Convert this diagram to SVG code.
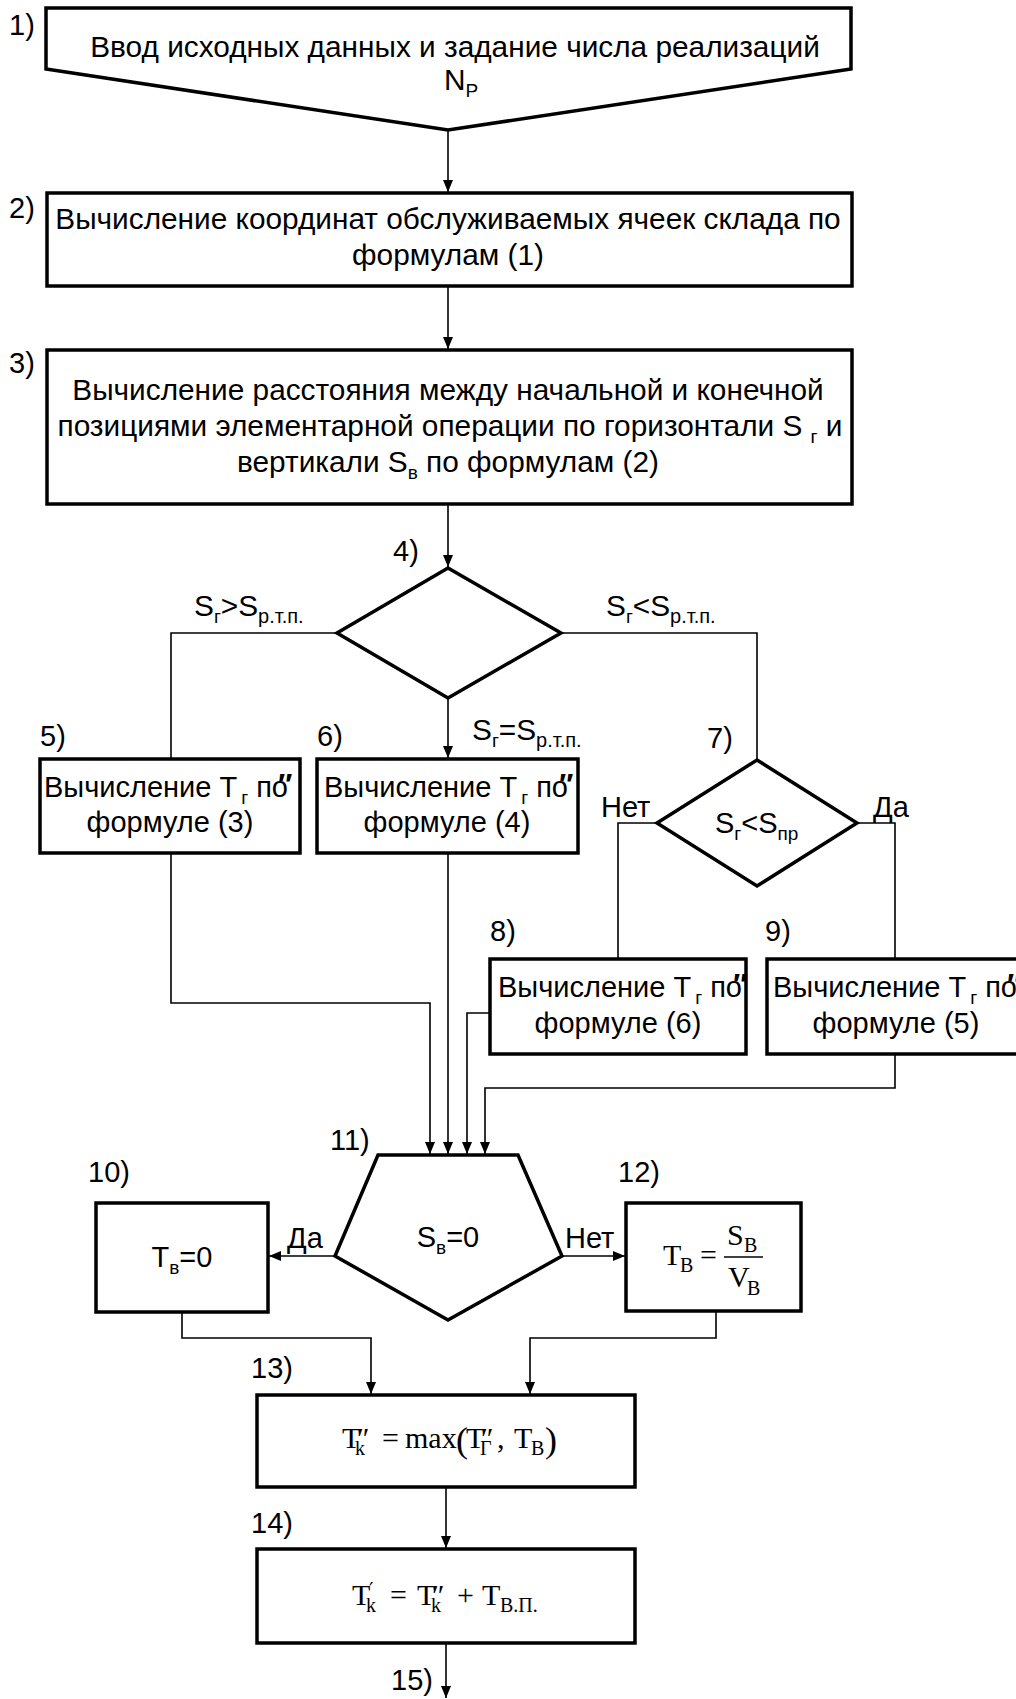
<svg xmlns="http://www.w3.org/2000/svg" width="1016" height="1699" viewBox="0 0 1016 1699">
  <style>
    .t { font-family: "Liberation Sans", Arial, sans-serif; font-size: 29px; fill: #000; }
    .big { font-size: 29.8px; }
    .s { font-size: 19px; }
    .s2 { font-size: 20px; }
    .f { font-family: "Liberation Serif", "Times New Roman", serif; font-size: 30px; fill: #000; }
    .fs { font-size: 20px; }
    .pr { font-family: "DejaVu Serif", "Liberation Serif", serif; font-size: 20px; }
    .box { fill: #fff; stroke: #000; stroke-width: 3.5; stroke-linejoin: miter; }
    .ln { fill: none; stroke: #000; stroke-width: 1.6; }
    .arr { marker-end: url(#ah); }
    .tick { font-family: "Liberation Sans", Arial, sans-serif; font-size: 30px; font-weight: bold; fill: #000; }
  </style>
  <defs>
    <marker id="ah" markerUnits="userSpaceOnUse" markerWidth="12" markerHeight="10" refX="12" refY="5" orient="auto">
      <path d="M0,0 L12,5 L0,10 z" fill="#000"/>
    </marker>
  </defs>
  <rect width="1016" height="1699" fill="#fff"/>

  <!-- connectors -->
  <g id="connectors">
    <path class="ln arr" d="M448,130 V192"/>
    <path class="ln arr" d="M448,286 V349"/>
    <path class="ln arr" d="M448,504 V567"/>
    <path class="ln" d="M337,633 H171 V759"/>
    <path class="ln arr" d="M448,698 V758"/>
    <path class="ln" d="M561,633 H757 V760"/>
    <path class="ln" d="M657,823 H618 V959"/>
    <path class="ln" d="M857,823 H895 V959"/>
    <path class="ln arr" d="M171,853 V1003 H430 V1154"/>
    <path class="ln arr" d="M448,853 V1154"/>
    <path class="ln arr" d="M490,1013 H467 V1154"/>
    <path class="ln arr" d="M895,1054 V1088 H485 V1154"/>
    <path class="ln arr" d="M335,1256 H269"/>
    <path class="ln arr" d="M562,1256 H625"/>
    <path class="ln arr" d="M182,1312 V1338 H371 V1394"/>
    <path class="ln arr" d="M716,1311 V1338 H530 V1394"/>
    <path class="ln arr" d="M446,1487 V1548"/>
    <path class="ln arr" d="M446,1643 V1698"/>
  </g>

  <!-- 1) input -->
  <g id="n1">
    <polygon class="box" points="46,8 851,8 851,69 448,130 46,69"/>
    <text class="t" x="9" y="35">1)</text>
    <text class="t big" x="455" y="57" text-anchor="middle">Ввод исходных данных и задание числа реализаций</text>
    <text class="t big" x="444" y="90">N<tspan class="s" dy="7">P</tspan></text>
  </g>

  <!-- 2) -->
  <g id="n2">
    <rect class="box" x="47" y="193" width="805" height="93"/>
    <text class="t" x="9" y="218">2)</text>
    <text class="t big" x="448" y="229" text-anchor="middle">Вычисление координат обслуживаемых ячеек склада по</text>
    <text class="t big" x="448" y="265" text-anchor="middle">формулам (1)</text>
  </g>

  <!-- 3) -->
  <g id="n3">
    <rect class="box" x="47" y="350" width="805" height="154"/>
    <text class="t" x="9" y="373">3)</text>
    <text class="t big" x="448" y="400" text-anchor="middle">Вычисление расстояния между начальной и конечной</text>
    <text class="t big" x="450" y="436" text-anchor="middle">позициями элементарной операции по горизонтали S <tspan class="s" dy="7">г</tspan><tspan dy="-7"> и</tspan></text>
    <text class="t big" x="448" y="472" text-anchor="middle">вертикали S<tspan class="s" dy="7">в</tspan><tspan dy="-7"> по формулам (2)</tspan></text>
  </g>

  <!-- 4) decision -->
  <g id="n4">
    <polygon class="box" points="448,568 561,633 448,698 337,633"/>
    <text class="t" x="393" y="561">4)</text>
    <text class="t big" x="194" y="616">S<tspan class="s" dy="7">г</tspan><tspan dy="-7">&gt;S</tspan><tspan class="s2" dy="7">р.т.п.</tspan></text>
    <text class="t big" x="606" y="616">S<tspan class="s" dy="7">г</tspan><tspan dy="-7">&lt;S</tspan><tspan class="s2" dy="7">р.т.п.</tspan></text>
    <text class="t big" x="472" y="740">S<tspan class="s" dy="7">г</tspan><tspan dy="-7">=S</tspan><tspan class="s2" dy="7">р.т.п.</tspan></text>
  </g>

  <!-- 5) -->
  <g id="n5">
    <rect class="box" x="40" y="759" width="260" height="94"/>
    <text class="t" x="40" y="746">5)</text>
    <text class="t" x="44" y="797">Вычисление Т<tspan class="s" dx="4" dy="7">г</tspan><tspan dy="-7"> по</tspan></text>
    <text class="tick" x="278" y="794">″</text>
    <text class="t" x="170" y="832" text-anchor="middle">формуле (3)</text>
  </g>

  <!-- 6) -->
  <g id="n6">
    <rect class="box" x="317" y="759" width="261" height="94"/>
    <text class="t" x="317" y="746">6)</text>
    <text class="t" x="324" y="797">Вычисление Т<tspan class="s" dx="4" dy="7">г</tspan><tspan dy="-7"> по</tspan></text>
    <text class="tick" x="559" y="794">″</text>
    <text class="t" x="447" y="832" text-anchor="middle">формуле (4)</text>
  </g>

  <!-- 7) decision -->
  <g id="n7">
    <polygon class="box" points="757,760 857,823 757,886 657,823"/>
    <text class="t" x="707" y="748">7)</text>
    <text class="t" x="715" y="833">S<tspan class="s" dy="7">г</tspan><tspan dy="-7">&lt;S</tspan><tspan class="s" dy="7">пр</tspan></text>
    <text class="t" x="601" y="817">Нет</text>
    <text class="t" x="873" y="817">Да</text>
  </g>

  <!-- 8) -->
  <g id="n8">
    <rect class="box" x="490" y="959" width="256" height="95"/>
    <text class="t" x="490" y="941">8)</text>
    <text class="t" x="498" y="997">Вычисление Т<tspan class="s" dx="4" dy="7">г</tspan><tspan dy="-7"> по</tspan></text>
    <text class="tick" x="733" y="994">″</text>
    <text class="t" x="618" y="1033" text-anchor="middle">формуле (6)</text>
  </g>

  <!-- 9) -->
  <g id="n9">
    <rect class="box" x="767" y="959" width="259" height="95"/>
    <text class="t" x="765" y="941">9)</text>
    <text class="t" x="773" y="997">Вычисление Т<tspan class="s" dx="4" dy="7">г</tspan><tspan dy="-7"> по</tspan></text>
    <text class="tick" x="1007" y="994">″</text>
    <text class="t" x="896" y="1033" text-anchor="middle">формуле (5)</text>
  </g>

  <!-- 10) -->
  <g id="n10">
    <rect class="box" x="96" y="1203" width="172" height="109"/>
    <text class="t" x="88" y="1182">10)</text>
    <text class="t" x="182" y="1267" text-anchor="middle" font-size="32">Т<tspan class="s" dy="7">в</tspan><tspan dy="-7">=0</tspan></text>
  </g>

  <!-- 11) decision S_в = 0 -->
  <g id="n11">
    <polygon class="box" points="378,1155 518,1155 562,1256 448,1320 335,1256"/>
    <text class="t" x="330" y="1150">11)</text>
    <text class="t" x="448" y="1247" text-anchor="middle">S<tspan class="s" dy="7">в</tspan><tspan dy="-7">=0</tspan></text>
    <text class="t" x="287" y="1248">Да</text>
    <text class="t" x="565" y="1248">Нет</text>
  </g>

  <!-- 12) -->
  <g id="n12">
    <rect class="box" x="626" y="1203" width="175" height="108"/>
    <text class="t" x="618" y="1182">12)</text>
    <text class="f" x="663" y="1265">Т<tspan class="fs" x="680" y="1272">В</tspan><tspan x="700" y="1265">=</tspan></text>
    <line x1="724" y1="1257" x2="763" y2="1257" stroke="#000" stroke-width="1.3"/>
    <text class="f" x="727" y="1245">S<tspan class="fs" x="744" y="1252">В</tspan></text>
    <text class="f" x="728" y="1287">V<tspan class="fs" x="747" y="1295">В</tspan></text>
  </g>

  <!-- 13) -->
  <g id="n13">
    <rect class="box" x="257" y="1395" width="378" height="92"/>
    <text class="t" x="251" y="1378">13)</text>
    <text class="f" x="342" y="1448">Т<tspan x="357" y="1448">″</tspan><tspan class="fs" x="355" y="1455">k</tspan><tspan x="382" y="1448">=</tspan><tspan x="405" y="1448">max</tspan><tspan x="456" y="1452" font-size="36">(</tspan><tspan x="466" y="1448">Т</tspan><tspan x="481" y="1448">″</tspan><tspan class="fs" x="480" y="1455">Г</tspan><tspan x="497" y="1448">,</tspan><tspan x="514" y="1448">Т</tspan><tspan class="fs" x="531" y="1455">В</tspan><tspan x="545" y="1452" font-size="36">)</tspan></text>
  </g>

  <!-- 14) -->
  <g id="n14">
    <rect class="box" x="257" y="1549" width="378" height="94"/>
    <text class="t" x="251" y="1533">14)</text>
    <text class="f" x="352" y="1605">Т<tspan class="pr" x="369" y="1597">′</tspan><tspan class="fs" x="366" y="1612">k</tspan><tspan x="390" y="1605">=</tspan><tspan x="417" y="1605">Т</tspan><tspan x="432" y="1605">″</tspan><tspan class="fs" x="431" y="1612">k</tspan><tspan x="457" y="1605">+</tspan><tspan x="482" y="1605">Т</tspan><tspan class="fs" x="500" y="1612">В.П.</tspan></text>
  </g>

  <!-- 15) -->
  <g id="n15">
    <text class="t" x="391" y="1690">15)</text>
  </g>
</svg>
